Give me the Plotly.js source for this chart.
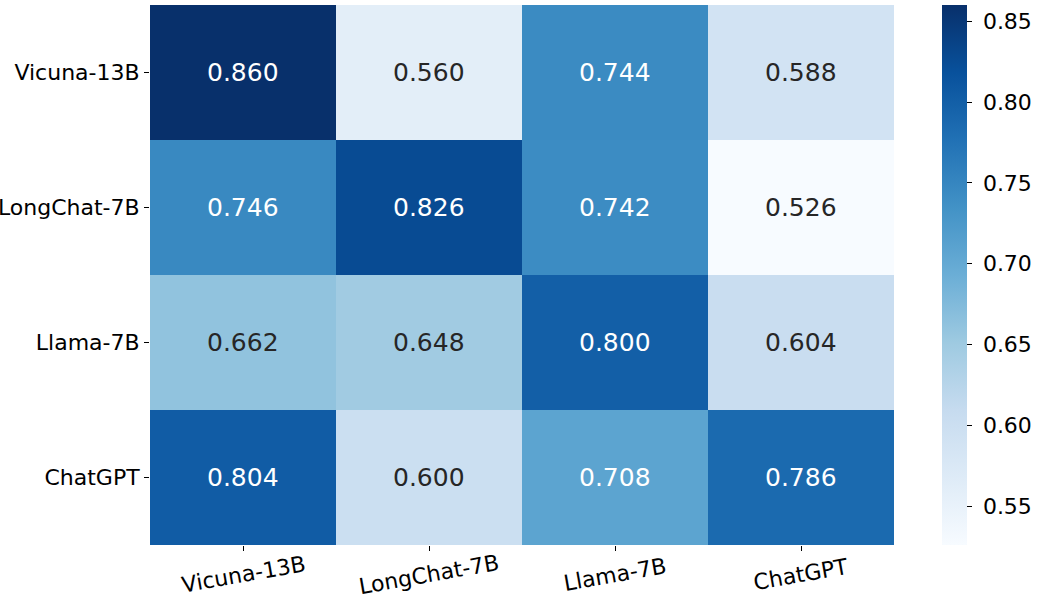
<!DOCTYPE html>
<html>
<head>
<meta charset="utf-8">
<script src="https://cdn.plot.ly/plotly-3.0.1.min.js"></script>
<style>html,body{margin:0;padding:0;background:#fff;}#chart{width:1039px;height:600px;}</style>
</head>
<body>
<div id="chart"></div>
<script>
const xLabels = ["Vicuna-13B", "LongChat-7B", "Llama-7B", "ChatGPT"];
const yLabels = ["Vicuna-13B", "LongChat-7B", "Llama-7B", "ChatGPT"];
const rowVicuna = [0.860, 0.560, 0.744, 0.588];
const rowLongChat = [0.746, 0.826, 0.742, 0.526];
const rowLlama = [0.662, 0.648, 0.800, 0.604];
const rowChatGPT = [0.804, 0.600, 0.708, 0.786];
const cbTicks = [0.55, 0.60, 0.65, 0.70, 0.75, 0.80, 0.85];

const z = [rowVicuna, rowLongChat, rowLlama, rowChatGPT];
const zmin = Math.min(...z.flat());
const zmax = Math.max(...z.flat());

const blues = [
  [0.0, "#f7fbff"], [0.125, "#deebf7"], [0.25, "#c6dbef"], [0.375, "#9ecae1"],
  [0.5, "#6baed6"], [0.625, "#4292c6"], [0.75, "#2171b5"], [0.875, "#08519c"], [1.0, "#08306b"]
];

const annotations = [];
z.forEach((row, i) => row.forEach((v, j) => {
  annotations.push({
    x: xLabels[j], y: yLabels[i], xref: "x", yref: "y",
    text: v.toFixed(3), showarrow: false,
    font: {family: "DejaVu Sans", size: 25, color: v > 0.69 ? "#ffffff" : "#262626"}
  });
}));
xLabels.forEach(lbl => {
  annotations.push({
    x: lbl, xref: "x", y: 0, yref: "paper", yanchor: "middle", xanchor: "center",
    yshift: -29, textangle: -10, text: lbl, showarrow: false,
    font: {family: "DejaVu Sans", size: 22, color: "#000"}
  });
});

const trace = {
  type: "heatmap", x: xLabels, y: yLabels, z: z,
  zmin: zmin, zmax: zmax, colorscale: blues, hoverinfo: "none",
  colorbar: {
    x: (942 - 150) / 744, xanchor: "left", y: 0.5, yanchor: "middle",
    len: 1, lenmode: "fraction", thickness: 25, outlinewidth: 0, xpad: 0, ypad: 0,
    tickvals: cbTicks, ticktext: cbTicks.map(t => "\u00a0" + t.toFixed(2)),
    ticks: "outside", ticklen: 5, tickwidth: 1, tickcolor: "#000",
    tickfont: {family: "DejaVu Sans", size: 22, color: "#000"}
  }
};

const layout = {
  width: 1039, height: 600,
  margin: {l: 150, r: 145, t: 5, b: 55, autoexpand: false},
  paper_bgcolor: "#fff", plot_bgcolor: "#fff",
  xaxis: {
    type: "category", showgrid: false, zeroline: false, showline: false,
    ticks: "outside", ticklen: 5, tickcolor: "#000", showticklabels: false
  },
  yaxis: {
    type: "category", autorange: "reversed", showgrid: false, zeroline: false, showline: false,
    ticks: "outside", ticklen: 5, tickcolor: "#000",
    tickfont: {family: "DejaVu Sans", size: 22, color: "#000"}
  },
  annotations: annotations,
  showlegend: false
};

Plotly.newPlot("chart", [trace], layout, {displayModeBar: false, staticPlot: true});
</script>
</body>
</html>
